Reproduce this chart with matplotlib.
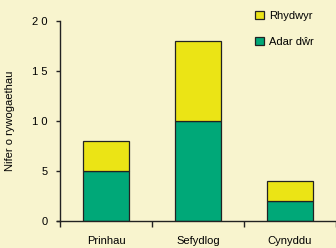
import matplotlib
matplotlib.use("Agg")
import matplotlib.pyplot as plt
from matplotlib.patches import Patch

categories = ["Prinhau", "Sefydlog", "Cynyddu"]
adar_dwr = [5, 10, 2]
rhydwyr = [3, 8, 2]
yticks = [0, 5, 10, 15, 20]
ytick_labels = ["0", "5", "1 0", "1 5", "2 0"]

bg = "#F8F4CE"
yellow = "#EBE415"
green = "#00A878"

plt.rcParams['font.family'] = ['Liberation Sans', 'DejaVu Sans']
fig = plt.figure(figsize=(3.36, 2.48), dpi=100, facecolor=bg)
ax = fig.add_axes([60/336, 1-221/248, 276/336, 200/248])
ax.set_facecolor(bg)

x = list(range(len(categories)))
ax.bar(x, adar_dwr, width=0.5, color=green, edgecolor="#222222", linewidth=0.9, zorder=2)
ax.bar(x, rhydwyr, bottom=adar_dwr, width=0.5, color=yellow, edgecolor="#222222", linewidth=0.9, zorder=2)

ax.set_xlim(-0.5, 2.5)
ax.set_ylim(0, 20)
ax.set_yticks(yticks)
ax.set_yticklabels(ytick_labels, fontsize=8)
ax.set_xticks(x)
ax.set_xticklabels(categories, fontsize=8)
ax.set_xticks([-0.5, 0.5, 1.5, 2.5], minor=True)
ax.tick_params(axis='x', which='major', length=0, pad=11)
ax.tick_params(axis='x', which='minor', length=4, width=1, direction='out', color="#222222")
ax.tick_params(axis='y', length=3, width=1, direction='out', color="#222222", pad=6)
for s in ["top", "right"]:
    ax.spines[s].set_visible(False)
for s in ["left", "bottom"]:
    ax.spines[s].set_color("#222222")
    ax.spines[s].set_linewidth(1)
ax.spines["bottom"].set_bounds(-0.5 - 3/92, 2.5)

ax.set_ylabel("Nifer o rywogaethau", fontsize=8, labelpad=12)

handles = [Patch(facecolor=yellow, edgecolor="#222222", linewidth=0.9, label="Rhydwyr"),
           Patch(facecolor=green, edgecolor="#222222", linewidth=0.9, label="Adar dŵr")]
leg = fig.legend(handles=handles, loc="upper left", bbox_to_anchor=(245/336, 1-1/248),
                 frameon=False, fontsize=8, handlelength=0.8, handleheight=0.8,
                 handletextpad=0.5, labelspacing=1.4)

fig.savefig("out.png", dpi=100, facecolor=bg)
